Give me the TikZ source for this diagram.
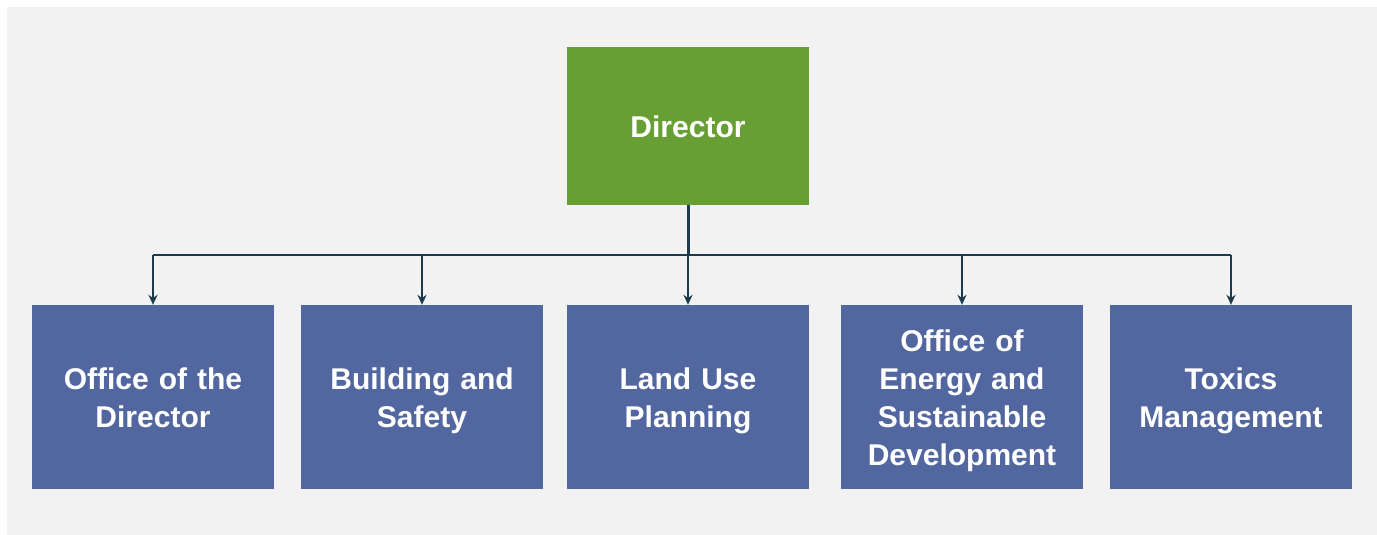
\documentclass[tikz,border=0pt]{standalone}
\usepackage{fontspec}
\setmainfont{Liberation Sans}
\usetikzlibrary{arrows.meta}
\definecolor{bgc}{HTML}{F2F2F2}
\definecolor{dirc}{HTML}{689F34}
\definecolor{unitc}{HTML}{52679F}
\definecolor{linec}{HTML}{1B3A4B}
\newcommand\mystrut{\rule[-7.4pt]{0pt}{38pt}}
\tikzset{
  box/.style={draw=none, minimum width=242pt, minimum height=#1, inner sep=0pt, align=center,
    text=white, font=\fontsize{30}{38}\selectfont\bfseries, text width=235pt},
  unit/.style={box=184pt, fill=unitc},
  head/.style={box=158pt, fill=dirc},
  conn/.style={draw=linec, line width=2pt},
  arr/.style={conn, -{Stealth[length=10pt,width=9pt]}}
}
\begin{document}
\begin{tikzpicture}[x=1pt,y=-1pt]
\useasboundingbox (0,0) rectangle (1377,535);
\fill[white] (0,0) rectangle (1377,535);
\fill[bgc] (7,7) rectangle (1377,535);
\node[head] (dir) at (688,126) {\mystrut Director};
\node[unit] (u1) at (153,397) {\mystrut Office of the\\Director\mystrut};
\node[unit] (u2) at (422,397) {\mystrut Building and\\Safety\mystrut};
\node[unit] (u3) at (688,397) {\mystrut Land Use\\Planning\mystrut};
\node[unit] (u4) at (962,397) {\mystrut Office of\\Energy and\\Sustainable\\Development\mystrut};
\node[unit] (u5) at (1231,397) {\mystrut Toxics\\Management\mystrut};
\coordinate (bus) at (688,255);
\draw[conn, line width=3pt] (dir.south) -- (bus);
\draw[conn] (u1.north |- bus) -- (u5.north |- bus);
\foreach \u in {u1,u2,u3,u4,u5}{
  \draw[arr] (\u.north |- bus) -- (\u.north);
}
\end{tikzpicture}
\end{document}
